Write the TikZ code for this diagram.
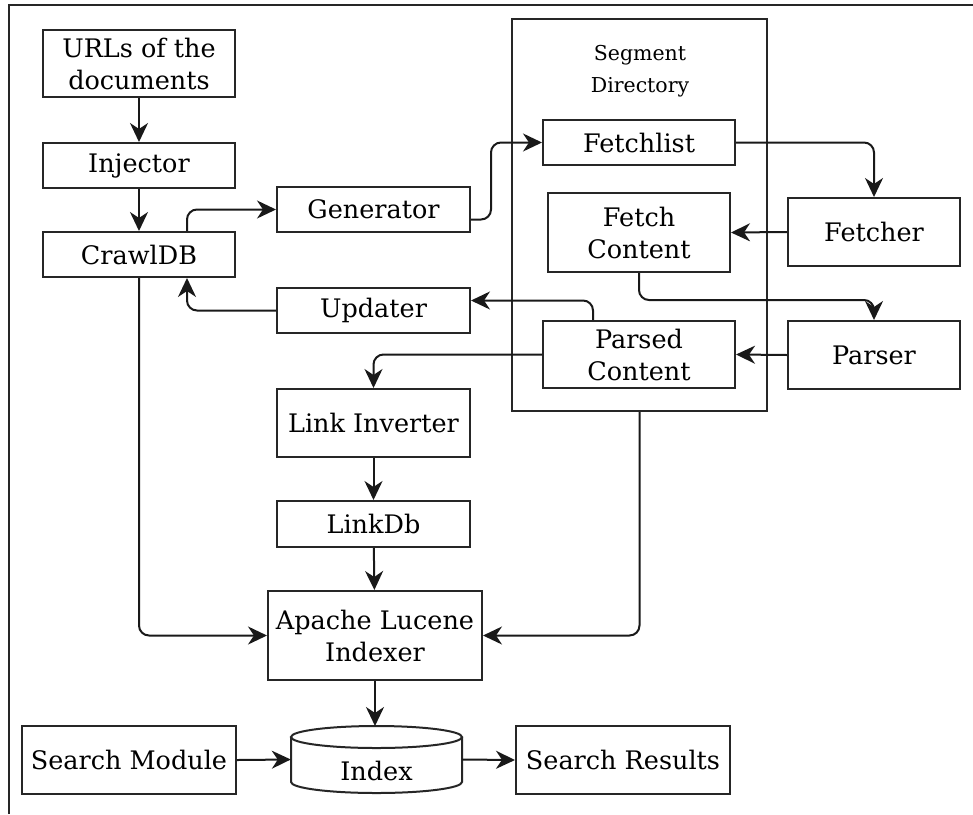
\documentclass[tikz,border=0pt]{standalone}
\usepackage{fontspec}
\setmainfont{DejaVu Serif}
\usetikzlibrary{arrows.meta,calc}
\begin{document}
\begin{tikzpicture}[x=1pt,y=-1pt,
  lw/.style={line width=2pt, draw=black!85},
  box/.style={lw, rectangle, align=center, inner sep=0pt,
    font=\fontsize{25.5}{32}\selectfont},
  conn/.style={line width=2pt, draw=black!90, rounded corners=10pt,
    -{Stealth[length=19pt,width=18pt,inset=6pt]}}
]
\useasboundingbox (0,0) rectangle (973,814);
% outer frame (cropped)
\draw[lw] (9,814) -- (9,5) -- (973,5);

% segment directory container
\node[lw, rectangle, minimum width=255pt, minimum height=392pt, inner sep=0pt] (seg) at (639.5,215) {};
\node[align=center, font=\fontsize{20.5}{32}\selectfont] (segl) at (640,71) {Segment\\Directory};

\node[box, minimum width=192pt, minimum height=67pt] (urls) at (139,63.5) {URLs of the\\documents};
\node[box, minimum width=192pt, minimum height=45pt] (inj) at (139,165.5) {Injector};
\node[box, minimum width=192pt, minimum height=45pt] (crawl) at (139,254.5) {CrawlDB};
\node[box, minimum width=193pt, minimum height=45pt] (gen) at (373.5,209.5) {Generator};
\node[box, minimum width=193pt, minimum height=45pt] (upd) at (373.5,310.5) {Updater};
\node[box, minimum width=192pt, minimum height=45pt] (fl) at (639,142.5) {Fetchlist};
\node[box, minimum width=182pt, minimum height=79pt] (fc) at (639,232.5) {Fetch\\Content};
\node[box, minimum width=192pt, minimum height=67pt] (pc) at (639,354.5) {Parsed\\Content};
\node[box, minimum width=172pt, minimum height=68pt] (fetcher) at (874,232) {Fetcher};
\node[box, minimum width=172pt, minimum height=68pt] (parser) at (874,355) {Parser};
\node[box, minimum width=193pt, minimum height=68pt] (li) at (373.5,423) {Link Inverter};
\node[box, minimum width=193pt, minimum height=46pt] (ldb) at (373.5,524) {LinkDb};
\node[box, minimum width=214pt, minimum height=89pt] (ap) at (375,635.5) {Apache Lucene\\Indexer};
\node[box, minimum width=214pt, minimum height=68pt] (sm) at (129,760) {Search Module};
\node[box, minimum width=214pt, minimum height=68pt] (sr) at (623,760) {Search Results};

% Index cylinder
\node[rectangle, minimum width=171pt, minimum height=67pt, inner sep=0pt] (idx) at (376.5,759.5) {};
\coordinate (idxtop) at (376.5,726);
\fill[white] (291,737) -- (291,782) arc[start angle=180,end angle=0,x radius=85.5,y radius=11] -- (462,737) -- cycle;
\draw[lw] (291,737) -- (291,782) arc[start angle=180,end angle=0,x radius=85.5,y radius=11] -- (462,737);
\draw[lw] (376.5,737) ellipse [x radius=85.5, y radius=11];
\node[font=\fontsize{25.5}{32}\selectfont] (idxl) at (376.5,771) {Index};

\coordinate (y300) at (0,300);

% connectors
\draw[conn] (urls) -- (inj);
\draw[conn] (inj) -- (crawl);
\draw[conn] ([xshift=48pt]crawl.north) |- (gen.west);
\draw[conn] ([yshift=-10pt]gen.east) -- ++(20,0) |- (fl.west);
\draw[conn] (fl.east) -| (fetcher.north);
\draw[conn] (fetcher.west) -- (fc.east);
\draw[conn] (fc.south) -- (fc.south |- y300) -| (parser.north);
\draw[conn] (parser.west) -- (pc.east);
\draw[conn] ([xshift=-46pt]pc.north) |- ([yshift=10pt]upd.east);
\draw[conn] (upd.west) -| ([xshift=48pt]crawl.south);
\draw[conn] (pc.west) -| (li.north);
\draw[conn] (li) -- (ldb);
\draw[conn] (ldb) -- (ap);
\draw[conn] (crawl.south) |- (ap.west);
\draw[conn] (seg.south) |- (ap.east);
\draw[conn] (ap.south) -- (ap.south |- idxtop);
\draw[conn] (sm.east) -- (idx.west);
\draw[conn] (idx.east) -- (sr.west);
\end{tikzpicture}
\end{document}
